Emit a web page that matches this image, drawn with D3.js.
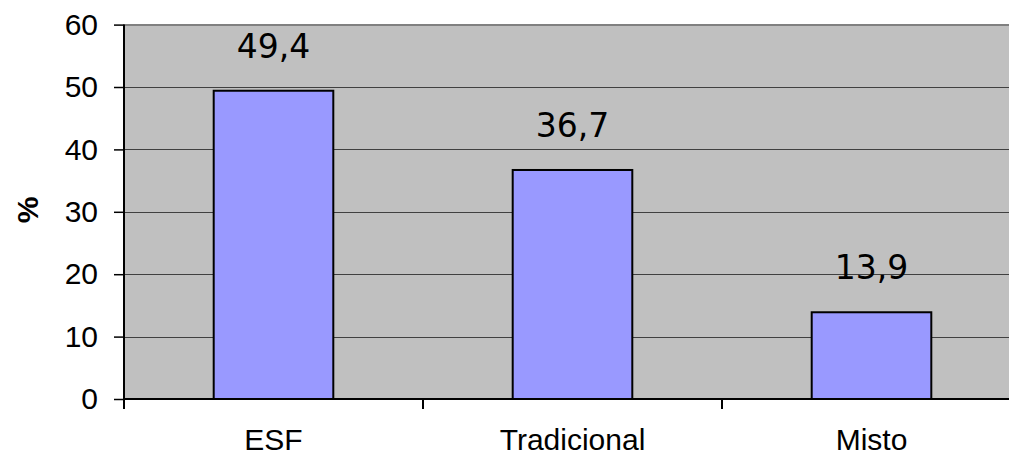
<!DOCTYPE html>
<html><head><meta charset="utf-8">
<script src="https://cdn.jsdelivr.net/npm/d3@7"></script>
<style>body{margin:0;background:#fff;}svg{display:block;}</style>
</head><body>
<script>
const categories = ["ESF", "Tradicional", "Misto"];
const values = [49.4, 36.7, 13.9];
const valueLabels = ["49,4", "36,7", "13,9"];
const yTicks = [0, 10, 20, 30, 40, 50, 60];

const W = 1009, H = 456;
const svg = d3.select("body").append("svg").attr("width", W).attr("height", H);
const mLeft = 124, mTop = 24.6, mBottom = 399, mRight = 1021;

const x = d3.scaleBand().domain(categories).range([mLeft, mRight]).paddingInner(0.6).paddingOuter(0.3);
const xb = d3.scaleBand().domain(categories).range([mLeft, mRight]);
const y = d3.scaleLinear().domain([0, 60]).range([mBottom, mTop]);

// plot background
svg.append("rect").attr("x", mLeft).attr("y", y(60)).attr("width", mRight - mLeft).attr("height", y(0) - y(60))
  .attr("fill", "#c0c0c0");
svg.append("line").attr("x1", mLeft).attr("x2", mRight).attr("y1", y(60) + 0.5).attr("y2", y(60) + 0.5)
  .attr("stroke", "#808080").attr("stroke-width", 2);

// gridlines
svg.append("g").selectAll("line").data(yTicks.filter(d => d > 0 && d < 60)).join("line")
  .attr("x1", mLeft).attr("x2", mRight)
  .attr("y1", d => Math.round(y(d)) + 0.5).attr("y2", d => Math.round(y(d)) + 0.5)
  .attr("stroke", "#404040").attr("stroke-width", 1.2);

// bars
svg.append("g").selectAll("rect").data(values).join("rect")
  .attr("x", (d, i) => x(categories[i]))
  .attr("y", d => y(d))
  .attr("width", x.bandwidth())
  .attr("height", d => y(0) - y(d))
  .attr("fill", "#9999ff").attr("stroke", "#000").attr("stroke-width", 2);

// value labels
svg.append("g").selectAll("text").data(values).join("text")
  .attr("x", (d, i) => xb(categories[i]) + xb.bandwidth() / 2)
  .attr("y", d => y(d) - 33)
  .attr("text-anchor", "middle")
  .attr("font-family", "DejaVu Sans, Verdana, sans-serif")
  .attr("font-size", 33).attr("fill", "#000")
  .text((d, i) => valueLabels[i]);

// y axis
const yAxis = d3.axisLeft(y).tickValues(yTicks).tickSize(10).tickPadding(16).tickFormat(d3.format("d"));
const gy = svg.append("g").attr("transform", `translate(${mLeft},0)`).call(yAxis);
gy.select(".domain").attr("stroke", "#000").attr("stroke-width", 2).attr("d", `M0,${mTop}V${mBottom + 10}`);
gy.selectAll(".tick line").attr("stroke", "#000").attr("stroke-width", 1.5);
gy.selectAll(".tick text").attr("font-family", "Liberation Sans, Arial, sans-serif").attr("font-size", 30).attr("fill", "#000");

// x axis
const xAxis = d3.axisBottom(xb).tickSize(0).tickPadding(30);
const gx = svg.append("g").attr("transform", `translate(0,${mBottom})`).call(xAxis);
gx.select(".domain").attr("stroke", "#000").attr("stroke-width", 2).attr("d", `M${mLeft},0H${mRight}`);
gx.selectAll(".tick text").attr("font-family", "Liberation Sans, Arial, sans-serif").attr("font-size", 30).attr("fill", "#000");
gx.append("g").selectAll("line").data(categories.slice(1)).join("line")
  .attr("x1", d => xb(d)).attr("x2", d => xb(d)).attr("y1", 0).attr("y2", 10)
  .attr("stroke", "#000").attr("stroke-width", 2);

// y axis title
svg.append("text").attr("transform", "translate(38,210) rotate(-90)")
  .attr("text-anchor", "middle")
  .attr("font-family", "Liberation Sans, Arial, sans-serif").attr("font-weight", "bold")
  .attr("font-size", 30).attr("fill", "#000").text("%");
</script>
</body></html>
